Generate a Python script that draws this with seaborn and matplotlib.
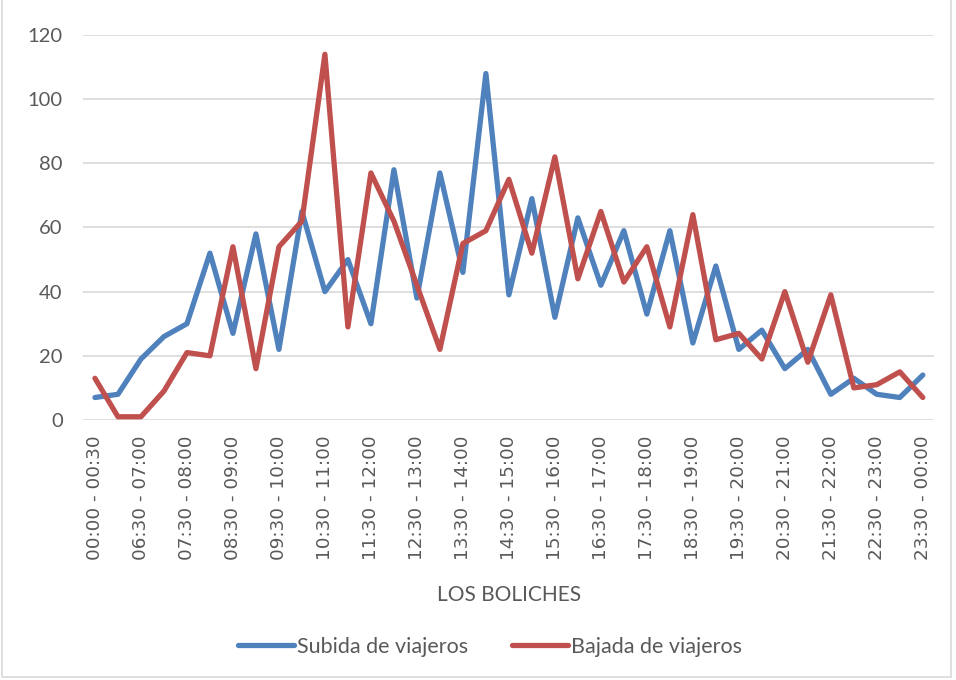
import pandas as pd
import matplotlib.pyplot as plt
import seaborn as sns
from matplotlib.patches import Rectangle

franjas = ["00:00 - 00:30", "06:00 - 06:30", "06:30 - 07:00", "07:00 - 07:30", "07:30 - 08:00",
           "08:00 - 08:30", "08:30 - 09:00", "09:00 - 09:30", "09:30 - 10:00", "10:00 - 10:30",
           "10:30 - 11:00", "11:00 - 11:30", "11:30 - 12:00", "12:00 - 12:30", "12:30 - 13:00",
           "13:00 - 13:30", "13:30 - 14:00", "14:00 - 14:30", "14:30 - 15:00", "15:00 - 15:30",
           "15:30 - 16:00", "16:00 - 16:30", "16:30 - 17:00", "17:00 - 17:30", "17:30 - 18:00",
           "18:00 - 18:30", "18:30 - 19:00", "19:00 - 19:30", "19:30 - 20:00", "20:00 - 20:30",
           "20:30 - 21:00", "21:00 - 21:30", "21:30 - 22:00", "22:00 - 22:30", "22:30 - 23:00",
           "23:00 - 23:30", "23:30 - 00:00"]
subida = [7, 8, 19, 26, 30, 52, 27, 58, 22, 65, 40, 50, 30, 78, 38, 77, 46, 108, 39, 69,
          32, 63, 42, 59, 33, 59, 24, 48, 22, 28, 16, 22, 8, 13, 8, 7, 14]
bajada = [13, 1, 1, 9, 21, 20, 54, 16, 54, 62, 114, 29, 77, 62, 42, 22, 55, 59, 75, 52,
          82, 44, 65, 43, 54, 29, 64, 25, 27, 19, 40, 18, 39, 10, 11, 15, 7]
series = ["Subida de viajeros", "Bajada de viajeros"]

table = pd.DataFrame({"franja": list(range(len(franjas))) * 2,
                      "viajeros": subida + bajada,
                      "serie": [series[0]] * len(subida) + [series[1]] * len(bajada)})

sns.set_style("white")
plt.rcParams['font.family'] = ['Lato', 'DejaVu Sans']

fig = plt.figure(figsize=(9.56, 6.8), dpi=100)
ax = fig.add_axes([0.0873, 0.3824, 0.890, 0.5661])

sns.lineplot(data=table, x="franja", y="viajeros", hue="serie", hue_order=series,
             palette=["#4F81BD", "#C0504D"], linewidth=3.8, ax=ax)

ax.set_xlim(-0.5, len(franjas) - 0.5)
ax.set_ylim(0, 120)
ax.set_yticks(range(0, 121, 20))
ax.yaxis.grid(True, color="#D9D9D9", linewidth=1.2)
ax.set_axisbelow(True)
for s in ax.spines.values():
    s.set_visible(False)
ax.tick_params(axis="y", length=0, pad=15, labelsize=14.5, labelcolor="#595959")
ax.set_xticks(range(0, len(franjas), 2))
ax.set_xticklabels(franjas[::2], rotation=90, family="DejaVu Sans", fontsize=13.2, color="#595959")
ax.tick_params(axis="x", length=0, pad=11)
ax.set_ylabel("")
ax.set_xlabel("LOS BOLICHES", fontsize=15, color="#595959", labelpad=18)

ax.legend(loc="center", bbox_to_anchor=(490 / 956, 1 - 647 / 680), bbox_transform=fig.transFigure,
          ncol=2, frameon=False, fontsize=15.5, handlelength=2.6, handletextpad=0.15,
          columnspacing=2.0, labelcolor="#595959")

fig.patches.append(Rectangle((0.002, 0.004), 0.993, 1.2, transform=fig.transFigure,
                             fill=False, edgecolor="#D9D9D9", linewidth=1.2))

fig.savefig("out.png", dpi=100)
